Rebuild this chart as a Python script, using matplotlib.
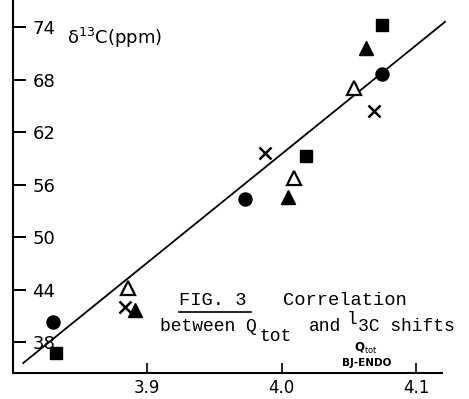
import matplotlib
matplotlib.use("Agg")
import matplotlib.pyplot as plt
from matplotlib.lines import Line2D

# ---- data ----
circle_x = [3.830, 3.973, 4.075]
circle_y = [40.3, 54.3, 68.6]
square_x = [3.832, 4.018, 4.075]
square_y = [36.7, 59.3, 74.2]
open_tri_x = [3.886, 4.009, 4.054]
open_tri_y = [44.2, 56.7, 67.0]
filled_tri_x = [3.891, 4.005, 4.063]
filled_tri_y = [41.7, 54.6, 71.6]
cross_x = [3.884, 3.988, 4.069]
cross_y = [42.0, 59.6, 64.4]
fit_x = [3.808, 4.1216]
fit_y = [35.6, 74.6]

x_ticks = [3.9, 4.0, 4.1]
x_tick_labels = ["3.9", "4.0", "4.1"]
y_ticks = [38, 44, 50, 56, 62, 68, 74]
y_tick_labels = ["38", "44", "50", "56", "62", "68", "74"]

W, H = 469, 399
fig = plt.figure(figsize=(W / 100, H / 100), dpi=100)
ax = fig.add_axes([13 / W, 1 - 373 / H, (442 - 13) / W, 373 / H])
ax.set_xlim(3.8004, 4.1193)
ax.set_ylim(34.46, 77.09)

for s in ["top", "right"]:
    ax.spines[s].set_visible(False)
for s in ["left", "bottom"]:
    ax.spines[s].set_linewidth(1.5)

ax.plot(fit_x, fit_y, color="black", lw=1.3, clip_on=False, zorder=2)

kw = dict(linestyle="none", clip_on=False, zorder=3)
ax.plot(circle_x, circle_y, marker="o", ms=9.4, color="black", **kw)
ax.plot(square_x, square_y, marker="s", ms=9.2, color="black", **kw)
ax.plot(filled_tri_x, filled_tri_y, marker="^", ms=10.5, color="black", **kw)
ax.plot(open_tri_x, open_tri_y, marker="^", ms=10.5, mfc="white", mec="black", mew=1.6, **kw)
ax.plot(cross_x, cross_y, marker="x", ms=9.0, color="black", mew=1.8, **kw)

ax.set_xticks(x_ticks)
ax.set_xticklabels(x_tick_labels, fontsize=12)
ax.set_yticks(y_ticks)
ax.set_yticklabels(y_tick_labels, fontsize=13)
ax.tick_params(axis="y", direction="in", length=9, width=1.4, pad=-14)
ax.tick_params(axis="x", direction="in", length=7, width=1.2, pad=4)
for lab in ax.get_yticklabels():
    lab.set_horizontalalignment("left")

# axis title (top left)
fig.text(67 / W, 1 - 38 / H, "δ$^{13}$C(ppm)", fontsize=13, ha="left", va="center")

# caption
mono = "Liberation Mono"
fig.text(179 / W, 1 - 305 / H, "FIG. 3", family=mono, fontsize=13.5, ha="left", va="baseline")
fig.text(283 / W, 1 - 305 / H, "Correlation", family=mono, fontsize=13.5, ha="left", va="baseline")
fig.add_artist(Line2D([179 / W, 251 / W], [1 - 312 / H, 1 - 312 / H],
                      transform=fig.transFigure, color="black", lw=1.2))
fig.text(160 / W, 1 - 331 / H, "between Q", family=mono, fontsize=13, ha="left", va="baseline")
fig.text(259 / W, 1 - 341 / H, "tot", family=mono, fontsize=13, ha="left", va="baseline")
fig.text(309 / W, 1 - 331 / H, "and", family=mono, fontsize=13, ha="left", va="baseline")
fig.text(347 / W, 1 - 324 / H, "l", family=mono, fontsize=13, ha="left", va="baseline")
fig.text(358 / W, 1 - 331 / H, "3C shifts", family=mono, fontsize=13, ha="left", va="baseline")

# x axis label (small handwritten)
fig.text(366 / W, 1 - 348 / H, "Q$_{\\rm tot}$", fontsize=8.5, weight="bold", ha="center", va="center")
fig.text(367 / W, 1 - 363 / H, "BJ-ENDO", fontsize=7.5, weight="bold", ha="center", va="center")

fig.savefig("out.png", dpi=100)
